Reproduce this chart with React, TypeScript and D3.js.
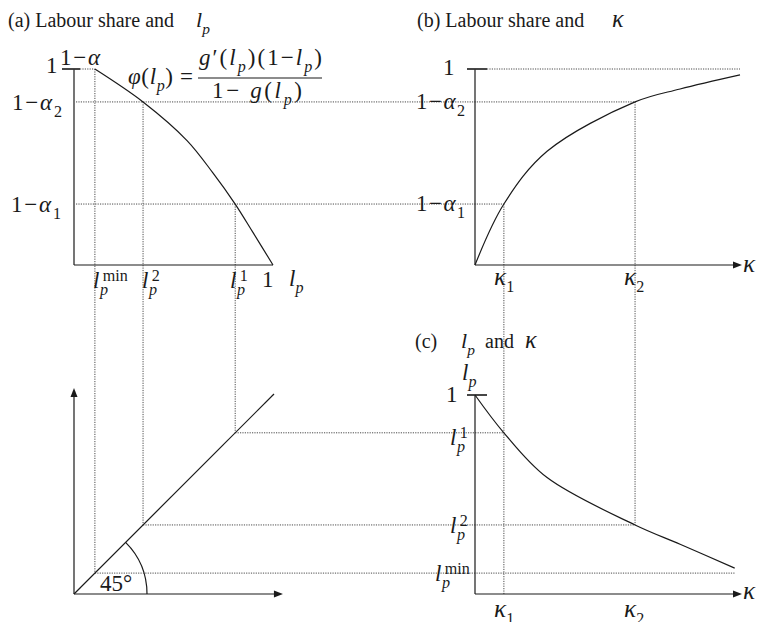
import React from "react";
import * as d3 from "d3";

// Panel (a): phi(l_p), the labour share implied by l_p
const phiLp = [0.105, 0.347, 0.568, 0.698, 0.81, 0.9, 1.0];
const phiShare = [1.0, 0.832, 0.635, 0.47, 0.311, 0.165, 0.0];

// Panel (b): labour share against kappa
const shareKappa = [0, 0.109, 0.272, 0.604, 0.774, 1.0];
const shareValue = [0, 0.311, 0.58, 0.832, 0.898, 0.97];

// Panel (c): l_p against kappa
const lpKappa = [0, 0.109, 0.272, 0.604, 0.774, 0.98];
const lpValue = [1.0, 0.81, 0.585, 0.347, 0.25, 0.13];

// Marked levels: l_p^min, l_p^2, l_p^1 and the shares / kappas they map to
const lpMarks = [0.105, 0.347, 0.81];
const lpMarkShares = [1.0, 0.832, 0.311];
const kappaMarks = [0.109, 0.604]; // kappa_1, kappa_2
const kappaShares = [0.311, 0.832]; // 1-alpha_1, 1-alpha_2
const kappaLps = [0.81, 0.347]; // l_p^1, l_p^2

const FONT = "'Liberation Serif', 'Times New Roman', serif";
const INK = "#1a1a1a";
const DOT = "#4a4a4a";

const xLp = d3.scaleLinear().domain([0, 1]).range([74, 273]);
const yShare = d3.scaleLinear().domain([0, 1]).range([265, 69]);
const xK = d3.scaleLinear().domain([0, 1]).range([475, 740]);
const yLp = d3.scaleLinear().domain([0, 1]).range([594, 395]);

type Seg = { t: string; it?: boolean; pos?: "sub" | "sup"; big?: boolean };

function Tex({ x, y, segs, size = 22, anchor = "start", width }: { x: number; y: number; segs: Seg[]; size?: number; anchor?: string; width?: number }) {
  let cur = 0;
  const spans = segs.map((s, i) => {
    const target = s.pos === "sub" ? size * 0.3 : s.pos === "sup" ? -size * 0.4 : 0;
    const dy = target - cur;
    cur = target;
    return (
      <tspan
        key={i}
        dy={dy !== 0 ? dy : undefined}
        fontStyle={s.it ? "italic" : "normal"}
        fontSize={s.pos ? size * 0.7 : s.big ? size * 1.1 : size}
      >
        {s.t}
      </tspan>
    );
  });
  return (
    <text
      x={x}
      y={y}
      textAnchor={anchor as any}
      fontFamily={FONT}
      fontSize={size}
      fill={INK}
      textLength={width}
      lengthAdjust={width ? "spacing" : undefined}
    >
      {spans}
    </text>
  );
}

// l with a stacked superscript and subscript p
function LpMark({ x, y, sup, size = 23 }: { x: number; y: number; sup: string; size?: number }) {
  const s = size * 0.7;
  return (
    <g fontFamily={FONT} fill={INK}>
      <text x={x} y={y} fontSize={size} fontStyle="italic">l</text>
      <text x={x + size * 0.42} y={y - size * 0.3} fontSize={s}>{sup}</text>
      <text x={x + size * 0.3} y={y + size * 0.3} fontSize={s} fontStyle="italic">p</text>
    </g>
  );
}

function Arrow({ x, y, dir }: { x: number; y: number; dir: "right" | "up" }) {
  const p = dir === "right" ? `M${x},${y} L${x - 9},${y - 3.5} L${x - 9},${y + 3.5} Z` : `M${x},${y} L${x - 3.5},${y + 9} L${x + 3.5},${y + 9} Z`;
  return <path d={p} fill={INK} />;
}

const K: Seg = { t: "κ", it: true, big: true };
const A: Seg = { t: "α", it: true };

export default function App() {
  const curve = d3.curveCatmullRom.alpha(0.5);
  const lineA = d3.line<number>().x((d) => xLp(d)).y((_, i) => yShare(phiShare[i])).curve(curve)(phiLp) as string;
  const lineB = d3.line<number>().x((d) => xK(d)).y((_, i) => yShare(shareValue[i])).curve(curve)(shareKappa) as string;
  const lineC = d3.line<number>().x((d) => xK(d)).y((_, i) => yLp(lpValue[i])).curve(curve)(lpKappa) as string;

  const dot = { stroke: DOT, strokeWidth: 1, strokeDasharray: "1.2 1.2", fill: "none" };
  const solid = { stroke: INK, strokeWidth: 1.2, fill: "none" };
  const ox = xLp(0);
  const oy = yLp(0);
  const r = 73;
  const kEnd = lpKappa[lpKappa.length - 1];

  return (
    <svg width={758} height={622} style={{ position: "absolute", left: 0, top: 0, background: "#fff" }}>
      {/* share levels from panel (a) across to panel (b) */}
      {kappaMarks.map((k, i) => (
        <line key={"hs" + i} x1={xLp(0) + 2} x2={xK(k)} y1={yShare(kappaShares[i])} y2={yShare(kappaShares[i])} {...dot} />
      ))}
      {/* l_p levels down from panel (a) to the 45 degree line */}
      {lpMarks.map((l, i) => (
        <line key={"vl" + i} x1={xLp(l)} x2={xLp(l)} y1={yShare(lpMarkShares[i])} y2={yLp(l)} {...dot} />
      ))}
      {/* l_p levels from the 45 degree line across to panel (c) */}
      {lpMarks.map((l, i) => {
        const kx = i === 0 ? xK(kEnd) : xK(kappaMarks[i === 1 ? 1 : 0]);
        return <line key={"hl" + i} x1={xLp(l)} x2={kx} y1={yLp(l)} y2={yLp(l)} {...dot} />;
      })}
      {/* kappa levels from panel (b) down to panel (c) */}
      <line x1={xK(kappaMarks[0])} x2={xK(kappaMarks[0])} y1={yShare(kappaShares[0])} y2={yLp(0)} {...dot} />
      <line x1={xK(kappaMarks[1])} x2={xK(kappaMarks[1])} y1={yShare(kappaShares[1])} y2={yLp(kappaLps[1])} {...dot} />
      {/* top levels */}
      <line x1={80} x2={xLp(lpMarks[0])} y1={yShare(1)} y2={yShare(1)} {...dot} />
      <line x1={487} x2={xK(1)} y1={yShare(1)} y2={yShare(1)} {...dot} />

      {/* panel (a) */}
      <line x1={xLp(0)} x2={xLp(0)} y1={yShare(1)} y2={yShare(0)} {...solid} />
      <line x1={xLp(0)} x2={xLp(1)} y1={yShare(0)} y2={yShare(0)} {...solid} />
      <line x1={62} x2={80} y1={yShare(1)} y2={yShare(1)} stroke="#333" strokeWidth={1.8} />
      <path d={lineA} {...solid} />

      {/* panel (b) */}
      <line x1={xK(0)} x2={xK(0)} y1={yShare(1)} y2={yShare(0)} {...solid} />
      <line x1={xK(0)} x2={xK(1) - 4} y1={yShare(0)} y2={yShare(0)} {...solid} />
      <Arrow x={xK(1) + 2} y={yShare(0)} dir="right" />
      <line x1={467} x2={487} y1={yShare(1)} y2={yShare(1)} stroke="#333" strokeWidth={1.8} />
      <path d={lineB} {...solid} />

      {/* panel (c) */}
      <line x1={xK(0)} x2={xK(0)} y1={yLp(1)} y2={yLp(0)} {...solid} />
      <line x1={xK(0)} x2={xK(1) - 4} y1={yLp(0)} y2={yLp(0)} {...solid} />
      <Arrow x={xK(1) + 2} y={yLp(0)} dir="right" />
      <line x1={467} x2={487} y1={yLp(1)} y2={yLp(1)} stroke="#333" strokeWidth={1.8} />
      <path d={lineC} {...solid} />

      {/* 45 degree panel */}
      <line x1={ox} x2={ox} y1={oy} y2={yLp(1.02) + 4} {...solid} />
      <Arrow x={ox} y={yLp(1.02) - 3} dir="up" />
      <line x1={ox} x2={xLp(1.04) - 4} y1={oy} y2={oy} {...solid} />
      <Arrow x={xLp(1.04) + 2} y={oy} dir="right" />
      <line x1={ox} y1={oy} x2={xLp(1.005)} y2={yLp(1.005)} {...solid} />
      <path d={`M${ox + r},${oy} A${r},${r} 0 0 0 ${ox + r * Math.SQRT1_2},${oy - r * Math.SQRT1_2}`} {...solid} />
      <Tex x={100} y={591} segs={[{ t: "45°" }]} size={23} />

      {/* titles */}
      <Tex x={8} y={27} size={20} segs={[{ t: "(a) Labour share and" }]} />
      <Tex x={196} y={27} size={22} segs={[{ t: "l", it: true }, { t: "p", it: true, pos: "sub" }]} />
      <Tex x={417} y={27} size={20} segs={[{ t: "(b) Labour share and" }]} />
      <Tex x={612} y={27} size={22} segs={[K]} />
      <Tex x={415} y={348} size={20} segs={[{ t: "(c)" }]} />
      <Tex x={461} y={348} size={22} segs={[{ t: "l", it: true }, { t: "p", it: true, pos: "sub" }]} />
      <Tex x={485} y={348} size={20} segs={[{ t: "and" }]} />
      <Tex x={525} y={348} size={22} segs={[K]} />

      {/* formula */}
      <Tex x={128} y={84} size={23} width={65} segs={[{ t: "φ", it: true }, { t: "(" }, { t: "l", it: true }, { t: "p", it: true, pos: "sub" }, { t: ")" }, { t: " =" }]} />
      <Tex x={199} y={65} size={23} width={123} segs={[{ t: "g", it: true }, { t: "′(" }, { t: "l", it: true }, { t: "p", it: true, pos: "sub" }, { t: ")(1−" }, { t: "l", it: true }, { t: "p", it: true, pos: "sub" }, { t: ")" }]} />
      <line x1={198} x2={322} y1={78} y2={78} stroke={INK} strokeWidth={1.2} />
      <Tex x={212} y={98} size={23} width={90} segs={[{ t: "1− " }, { t: "g", it: true }, { t: "(" }, { t: "l", it: true }, { t: "p", it: true, pos: "sub" }, { t: ")" }]} />

      {/* panel (a) axis labels */}
      <Tex x={46} y={73} size={23} segs={[{ t: "1" }]} />
      <Tex x={60} y={65} size={23} width={40} segs={[{ t: "1−" }, A]} />
      <Tex x={12} y={yShare(kappaShares[1]) + 8} size={23} width={50} segs={[{ t: "1−" }, A, { t: "2", pos: "sub" }]} />
      <Tex x={11} y={yShare(kappaShares[0]) + 8} size={23} width={50} segs={[{ t: "1−" }, A, { t: "1", pos: "sub" }]} />
      <LpMark x={93} y={288} sup="min" />
      <LpMark x={142} y={288} sup="2" />
      <LpMark x={230} y={288} sup="1" />
      <Tex x={262} y={287} size={23} segs={[{ t: "1" }]} />
      <Tex x={289} y={286} size={23} segs={[{ t: "l", it: true }, { t: "p", it: true, pos: "sub" }]} />

      {/* panel (b) axis labels */}
      <Tex x={443} y={75} size={23} segs={[{ t: "1" }]} />
      <Tex x={416} y={yShare(kappaShares[1]) + 7} size={23} width={49} segs={[{ t: "1−" }, A, { t: "2", pos: "sub" }]} />
      <Tex x={416} y={yShare(kappaShares[0]) + 7} size={23} width={49} segs={[{ t: "1−" }, A, { t: "1", pos: "sub" }]} />
      <Tex x={494} y={285} size={23} segs={[K, { t: "1", pos: "sub" }]} />
      <Tex x={624} y={285} size={23} segs={[K, { t: "2", pos: "sub" }]} />
      <Tex x={743} y={272} size={23} segs={[K]} />

      {/* panel (c) axis labels */}
      <Tex x={462} y={380} size={23} segs={[{ t: "l", it: true }, { t: "p", it: true, pos: "sub" }]} />
      <Tex x={446} y={402} size={23} segs={[{ t: "1" }]} />
      <LpMark x={450} y={445} sup="1" />
      <LpMark x={450} y={533} sup="2" />
      <LpMark x={435} y={581} sup="min" />
      <Tex x={494} y={617} size={23} segs={[K, { t: "1", pos: "sub" }]} />
      <Tex x={624} y={617} size={23} segs={[K, { t: "2", pos: "sub" }]} />
      <Tex x={743} y={599} size={23} segs={[K]} />
    </svg>
  );
}
